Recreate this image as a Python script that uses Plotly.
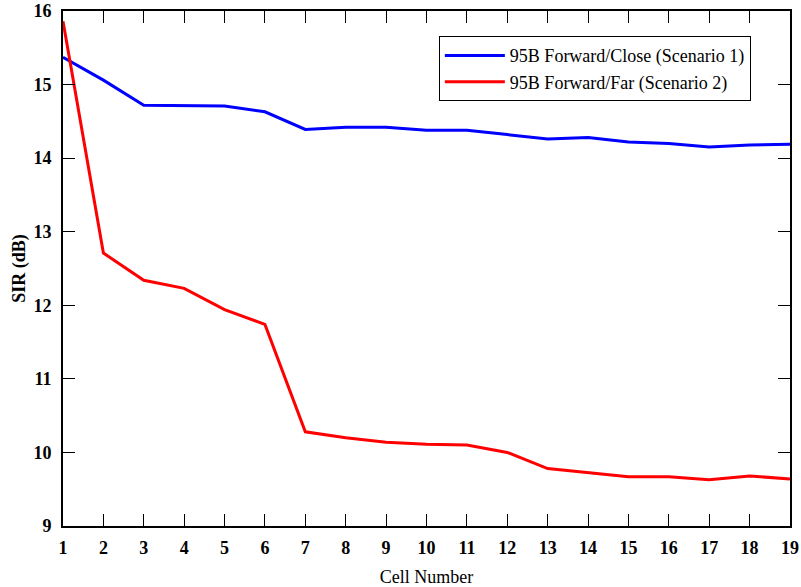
import plotly.graph_objects as go

cells = list(range(1, 20))
scenario1 = [15.37, 15.06, 14.72, 14.71, 14.71, 14.63, 14.39, 14.42, 14.42, 14.38,
             14.38, 14.32, 14.26, 14.28, 14.22, 14.20, 14.15, 14.18, 14.19]
scenario2 = [15.86, 12.71, 12.34, 12.23, 11.94, 11.74, 10.28, 10.20, 10.14, 10.11,
             10.10, 10.00, 9.78, 9.72, 9.67, 9.67, 9.63, 9.68, 9.64]
names = ["95B Forward/Close (Scenario 1)", "95B Forward/Far (Scenario 2)"]

SERIF = "Liberation Serif, Times New Roman, serif"

fig = go.Figure()
fig.add_trace(go.Scatter(x=cells, y=scenario1, mode="lines", name=names[0],
                         line=dict(color="#0000ff", width=3)))
fig.add_trace(go.Scatter(x=cells, y=scenario2, mode="lines", name=names[1],
                         line=dict(color="#ff0000", width=3)))

fig.update_layout(
    width=801, height=587,
    margin=dict(l=63, r=11, t=11, b=61),
    paper_bgcolor="white", plot_bgcolor="white",
    font=dict(family=SERIF, color="black"),
    legend=dict(x=0.517, y=0.951, xanchor="left", yanchor="top",
                bordercolor="black", borderwidth=1, bgcolor="white",
                font=dict(family=SERIF, size=18, color="black"),
                tracegroupgap=0, itemwidth=60),
    xaxis=dict(range=[1, 19], tickmode="array", tickvals=cells,
               ticktext=[f"<b>{c}</b>" for c in cells],
               ticks="inside", ticklen=12, tickwidth=1, tickcolor="black",
               showline=True, linecolor="black", linewidth=2, mirror="ticks",
               showgrid=False, zeroline=False, automargin=False,
               ticklabelstandoff=4,
               tickfont=dict(family=SERIF, size=18, color="black"),
               title=dict(text="Cell Number", standoff=14,
                          font=dict(family=SERIF, size=18, color="black"))),
    yaxis=dict(range=[9, 16], tickmode="array", tickvals=list(range(9, 17)),
               ticktext=[f"<b>{v}</b>" for v in range(9, 17)],
               ticks="inside", ticklen=12, tickwidth=1, tickcolor="black",
               showline=True, linecolor="black", linewidth=2, mirror="ticks",
               showgrid=False, zeroline=False, automargin=False,
               ticklabelstandoff=6,
               tickfont=dict(family=SERIF, size=18, color="black"),
               title=dict(text="<b>SIR (dB)</b>", standoff=3,
                          font=dict(family=SERIF, size=18, color="black"))),
)

fig.write_html("out.html")
